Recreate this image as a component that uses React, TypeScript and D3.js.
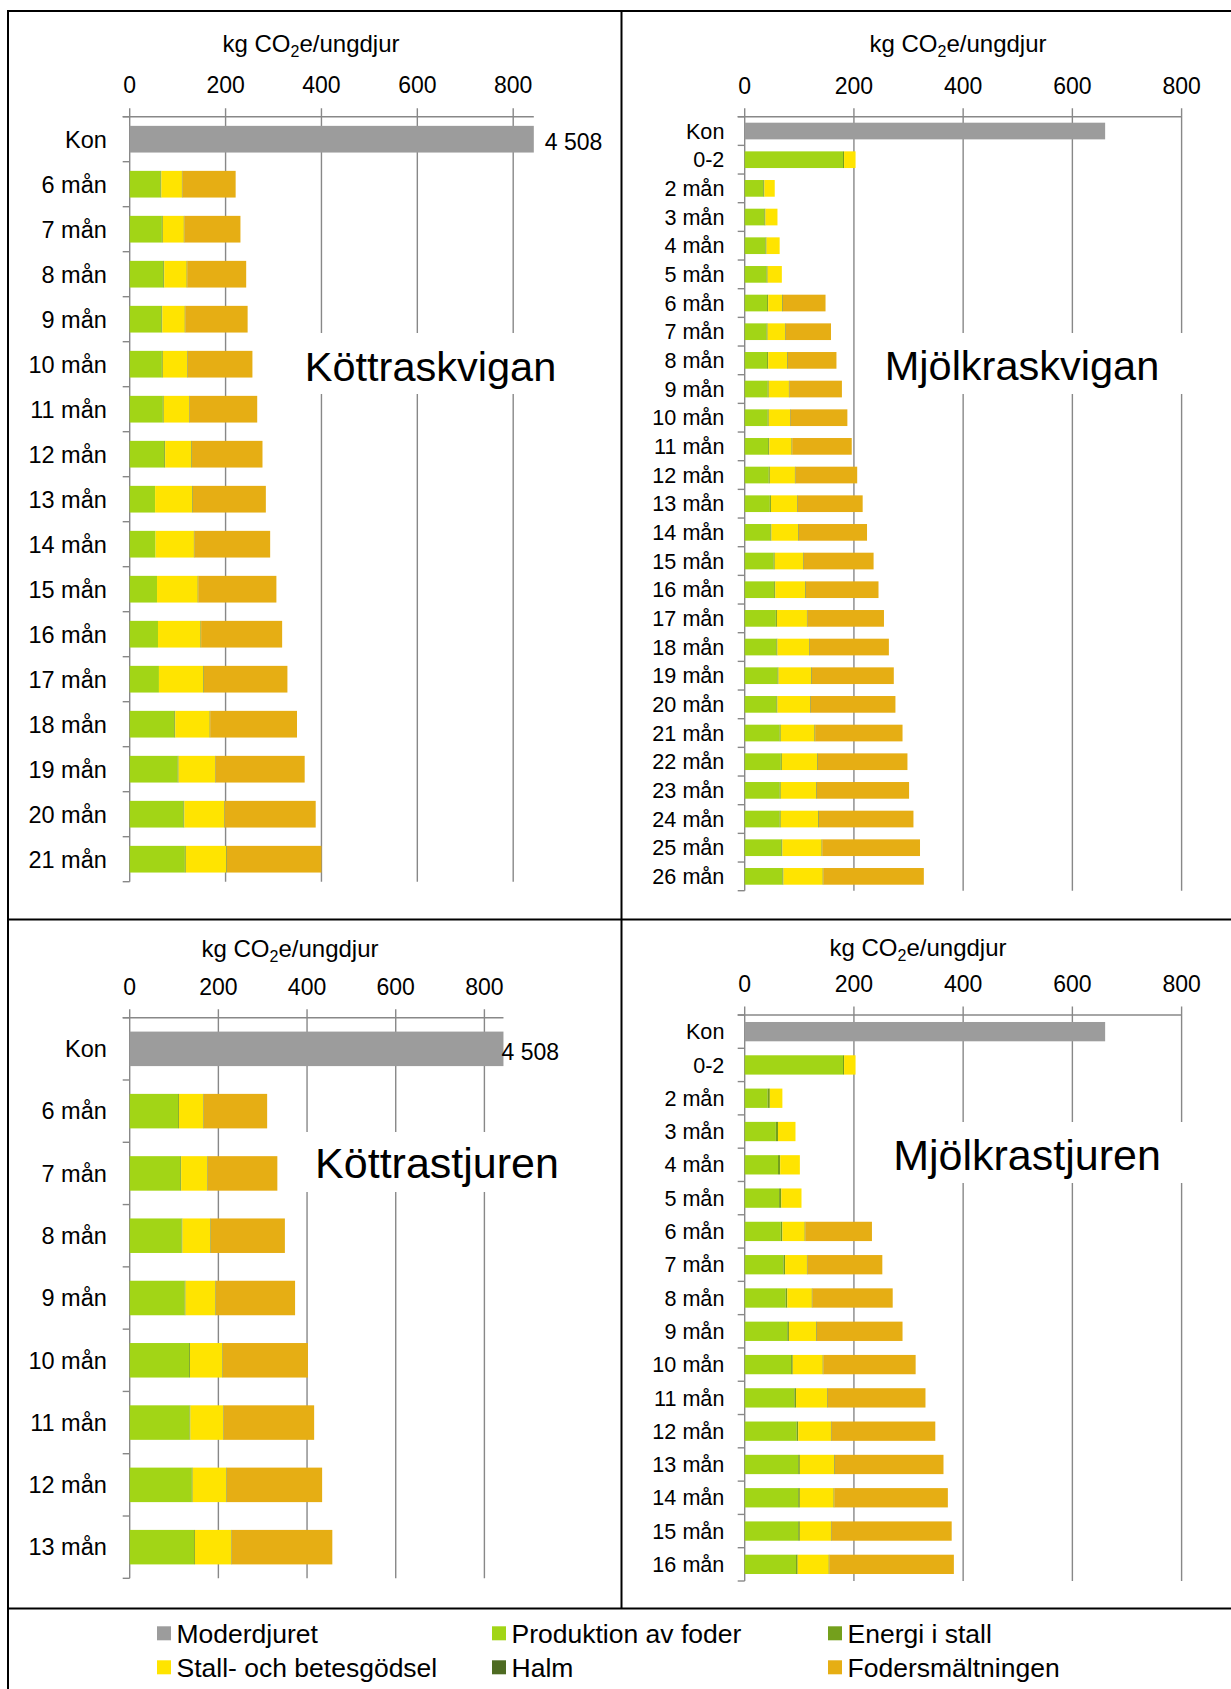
import React from "react";
import * as d3 from "d3";

const FONT = "'Liberation Sans', Arial, Helvetica, sans-serif";

// ---------- shared ----------
const seriesKeys = ["moder", "foder", "energi", "godsel", "halm", "smalt"];
const seriesNames = [
  "Moderdjuret",
  "Produktion av foder",
  "Energi i stall",
  "Stall- och betesgödsel",
  "Halm",
  "Fodersmältningen",
];
const seriesColors = ["#9c9c9c", "#a2d516", "#74a01c", "#ffe400", "#4e6b22", "#e6ae14"];
const tickValues = [0, 200, 400, 600, 800];
const konLabel = "4 508";

// ---------- Köttraskvigan ----------
const kkCats = ["Kon", "6 mån", "7 mån", "8 mån", "9 mån", "10 mån", "11 mån", "12 mån", "13 mån", "14 mån", "15 mån", "16 mån", "17 mån", "18 mån", "19 mån", "20 mån", "21 mån"];
const kkModer = [4508, 0, 0, 0, 0, 0, 0, 0, 0, 0, 0, 0, 0, 0, 0, 0, 0];
const kkFoder = [0, 64, 67, 70, 66, 67, 69, 72, 53, 54, 57, 59, 61, 93, 100, 112, 115];
const kkEnergi = [0, 2, 2, 2, 2, 2, 2, 2, 0, 0, 0, 0, 0, 2, 2, 2, 2];
const kkGodsel = [0, 43, 44, 47, 47, 51, 53, 55, 78, 80, 85, 89, 93, 72, 76, 83, 85];
const kkHalm = [0, 1, 1, 1, 1, 1, 1, 1, 1, 1, 1, 1, 1, 1, 1, 1, 1];
const kkSmalt = [0, 111, 117, 123, 130, 135, 141, 147, 152, 158, 163, 169, 174, 181, 186, 190, 197];

// ---------- Mjölkraskvigan ----------
const mkCats = ["Kon", "0-2", "2 mån", "3 mån", "4 mån", "5 mån", "6 mån", "7 mån", "8 mån", "9 mån", "10 mån", "11 mån", "12 mån", "13 mån", "14 mån", "15 mån", "16 mån", "17 mån", "18 mån", "19 mån", "20 mån", "21 mån", "22 mån", "23 mån", "24 mån", "25 mån", "26 mån"];
const mkModer = [660, 0, 0, 0, 0, 0, 0, 0, 0, 0, 0, 0, 0, 0, 0, 0, 0, 0, 0, 0, 0, 0, 0, 0, 0, 0, 0];
const mkFoder = [0, 180, 34, 36, 38, 40, 41, 40, 41, 42, 42, 43, 44, 46, 47, 53, 54, 57, 58, 60, 58, 64, 66, 64, 64, 67, 69];
const mkEnergi = [0, 2, 2, 2, 2, 2, 2, 2, 2, 2, 2, 2, 2, 2, 2, 2, 2, 2, 2, 2, 2, 2, 2, 2, 2, 2, 2];
const mkGodsel = [0, 21, 19, 22, 24, 26, 26, 32, 35, 37, 39, 41, 46, 48, 49, 52, 55, 55, 58, 60, 60, 62, 65, 65, 69, 72, 72];
const mkHalm = [0, 0, 0, 0, 0, 0, 1, 1, 1, 1, 1, 1, 1, 1, 1, 1, 1, 1, 1, 1, 1, 1, 1, 1, 1, 1, 1];
const mkSmalt = [0, 0, 0, 0, 0, 0, 78, 83, 89, 96, 104, 109, 113, 119, 125, 128, 133, 140, 145, 150, 155, 160, 164, 169, 173, 179, 184];

// ---------- Köttrastjuren ----------
const ktCats = ["Kon", "6 mån", "7 mån", "8 mån", "9 mån", "10 mån", "11 mån", "12 mån", "13 mån"];
const ktModer = [4508, 0, 0, 0, 0, 0, 0, 0, 0];
const ktFoder = [0, 109, 114, 117, 124, 134, 135, 140, 145];
const ktEnergi = [0, 2, 2, 2, 2, 2, 2, 2, 2];
const ktGodsel = [0, 55, 59, 63, 67, 73, 74, 76, 82];
const ktHalm = [0, 1, 1, 1, 1, 1, 1, 1, 1];
const ktSmalt = [0, 143, 157, 167, 179, 192, 204, 215, 227];

// ---------- Mjölkrastjuren ----------
const mtCats = ["Kon", "0-2", "2 mån", "3 mån", "4 mån", "5 mån", "6 mån", "7 mån", "8 mån", "9 mån", "10 mån", "11 mån", "12 mån", "13 mån", "14 mån", "15 mån", "16 mån"];
const mtModer = [660, 0, 0, 0, 0, 0, 0, 0, 0, 0, 0, 0, 0, 0, 0, 0, 0];
const mtFoder = [0, 180, 42, 57, 61, 63, 66, 71, 75, 78, 85, 91, 95, 98, 98, 98, 94];
const mtEnergi = [0, 2, 4, 4, 4, 4, 3, 3, 3, 3, 3, 3, 3, 3, 3, 3, 3];
const mtGodsel = [0, 21, 23, 32, 36, 37, 41, 40, 45, 50, 55, 57, 60, 63, 62, 57, 57];
const mtHalm = [0, 0, 0, 0, 0, 0, 1, 1, 1, 1, 1, 1, 1, 1, 1, 1, 1];
const mtSmalt = [0, 0, 0, 0, 0, 0, 122, 137, 147, 157, 169, 179, 190, 199, 208, 220, 228];

type PanelCfg = {
  cats: string[];
  series: number[][];
  x0: number; x800: number; xMax: number;
  yTop: number; yBottom: number; pad: number;
  titleX: number; titleY: number; tickY: number; labelX: number; labelSize: number;
  konDx: number | null;
  big: string; bigX: number; bigY: number; bigSize: number;
  box: [number, number, number, number];
};

const panels: PanelCfg[] = [
  {
    cats: kkCats, series: [kkModer, kkFoder, kkEnergi, kkGodsel, kkHalm, kkSmalt],
    x0: 129.7, x800: 513.2, xMax: 843, yTop: 116.7, yBottom: 881.7, pad: 0.407,
    titleX: 311, titleY: 51.5, tickY: 93.3, labelX: 106.8, labelSize: 23.5, konDx: 11,
    big: "Köttraskvigan", bigX: 430.5, bigY: 380.5, bigSize: 41.5, box: [300, 333, 268, 61],
  },
  {
    cats: mkCats, series: [mkModer, mkFoder, mkEnergi, mkGodsel, mkHalm, mkSmalt],
    x0: 744.7, x800: 1181.6, xMax: 800, yTop: 116.7, yBottom: 890.7, pad: 0.418,
    titleX: 958, titleY: 51.5, tickY: 93.8, labelX: 724.4, labelSize: 21.6, konDx: null,
    big: "Mjölkraskvigan", bigX: 1022, bigY: 380, bigSize: 41.5, box: [872, 333, 318, 61],
  },
  {
    cats: ktCats, series: [ktModer, ktFoder, ktEnergi, ktGodsel, ktHalm, ktSmalt],
    x0: 129.7, x800: 484.4, xMax: 843, yTop: 1017.7, yBottom: 1578.3, pad: 0.446,
    titleX: 290, titleY: 956.5, tickY: 995, labelX: 106.8, labelSize: 23.5, konDx: -2,
    big: "Köttrastjuren", bigX: 437, bigY: 1178, bigSize: 43, box: [306, 1132, 262, 60],
  },
  {
    cats: mtCats, series: [mtModer, mtFoder, mtEnergi, mtGodsel, mtHalm, mtSmalt],
    x0: 744.7, x800: 1181.6, xMax: 800, yTop: 1015, yBottom: 1581, pad: 0.42,
    titleX: 918, titleY: 956, tickY: 991.7, labelX: 724.4, labelSize: 21.6, konDx: null,
    big: "Mjölkrastjuren", bigX: 1027, bigY: 1170, bigSize: 43, box: [882, 1122, 308, 61],
  },
];

const GRID = "#888888";

function Panel({ cfg }: { cfg: PanelCfg }) {
  const rangeEnd = cfg.x0 + ((cfg.x800 - cfg.x0) * cfg.xMax) / 800;
  const x = d3.scaleLinear().domain([0, cfg.xMax]).range([cfg.x0, rangeEnd]).clamp(true);
  const y = d3
    .scaleBand<string>()
    .domain(cfg.cats)
    .range([cfg.yTop, cfg.yBottom])
    .paddingInner(cfg.pad)
    .paddingOuter(cfg.pad / 2);
  const rows = cfg.cats.map((c, i) => {
    const r: any = { cat: c };
    seriesKeys.forEach((k, j) => (r[k] = cfg.series[j][i]));
    return r;
  });
  const stacked = d3.stack<any>().keys(seriesKeys)(rows);
  const step = y.step();
  const tickUp = 8.4;
  const tickLeft = 7;

  return (
    <g>
      {tickValues.map((t) => (
        <line key={"g" + t} x1={x(t)} x2={x(t)} y1={cfg.yTop - tickUp} y2={cfg.yBottom} stroke={GRID} strokeWidth={1.4} />
      ))}
      <line x1={cfg.x0 - tickLeft} x2={rangeEnd} y1={cfg.yTop} y2={cfg.yTop} stroke={GRID} strokeWidth={1.4} />
      {d3.range(cfg.cats.length + 1).map((i) => (
        <line key={"c" + i} x1={cfg.x0 - tickLeft} x2={cfg.x0} y1={cfg.yTop + i * step} y2={cfg.yTop + i * step} stroke={GRID} strokeWidth={1.4} />
      ))}
      {stacked.map((s, si) => (
        <g key={s.key} fill={seriesColors[si]}>
          {s.map((d, i) => {
            const w = x(d[1]) - x(d[0]);
            if (w <= 0) return null;
            return <rect key={i} x={x(d[0])} y={y(cfg.cats[i])} width={w} height={y.bandwidth()} />;
          })}
        </g>
      ))}
      {cfg.konDx !== null && (
        <text x={x(cfg.series[0][0]) + cfg.konDx} y={(y("Kon") as number) + y.bandwidth() / 2 + 3 + 8.2} fontSize={23} fontFamily={FONT} fill="#000">
          {konLabel}
        </text>
      )}
      {cfg.cats.map((c) => (
        <text key={"l" + c} x={cfg.labelX} y={(y(c) as number) + y.bandwidth() / 2 + cfg.labelSize * 0.355} textAnchor="end" fontSize={cfg.labelSize} fontFamily={FONT} fill="#000">
          {c}
        </text>
      ))}
      {tickValues.map((t) => (
        <text key={"t" + t} x={x(t)} y={cfg.tickY} textAnchor="middle" fontSize={23} fontFamily={FONT} fill="#000">
          {t}
        </text>
      ))}
      <text x={cfg.titleX} y={cfg.titleY} textAnchor="middle" fontSize={24} fontFamily={FONT} fill="#000">
        kg CO
        <tspan fontSize={16} dy={5}>2</tspan>
        <tspan dy={-5}>e/ungdjur</tspan>
      </text>
      <rect x={cfg.box[0]} y={cfg.box[1]} width={cfg.box[2]} height={cfg.box[3]} fill="#fff" />
      <text x={cfg.bigX} y={cfg.bigY} textAnchor="middle" fontSize={cfg.bigSize} fontFamily={FONT} fill="#000">
        {cfg.big}
      </text>
    </g>
  );
}

const legendCols = [157, 492, 828];
const legendRows = [1633.3, 1667.3];

export default function App() {
  return (
    <div style={{ position: "absolute", left: 0, top: 0 }}>
      <svg width={1231} height={1689} style={{ display: "block", background: "#fff" }}>
        <rect x={0} y={0} width={1231} height={1689} fill="#fff" />
        {panels.map((p, i) => (
          <Panel key={i} cfg={p} />
        ))}
        <g stroke="#000" strokeWidth={2}>
          <line x1={7} x2={1231} y1={11} y2={11} />
          <line x1={8} x2={8} y1={10} y2={1689} />
          <line x1={621.5} x2={621.5} y1={11} y2={1609} />
          <line x1={8} x2={1231} y1={919.5} y2={919.5} />
          <line x1={8} x2={1231} y1={1608.5} y2={1608.5} />
        </g>
        {seriesNames.map((n, i) => {
          const col = i % 3;
          const row = Math.floor(i / 3);
          const cx = legendCols[col];
          const cy = legendRows[row];
          return (
            <g key={n}>
              <rect x={cx} y={cy - 7} width={14} height={14} fill={seriesColors[i]} />
              <text x={cx + 19.5} y={cy + 9.4} fontSize={26.5} fontFamily={FONT} fill="#000">
                {n}
              </text>
            </g>
          );
        })}
      </svg>
    </div>
  );
}
